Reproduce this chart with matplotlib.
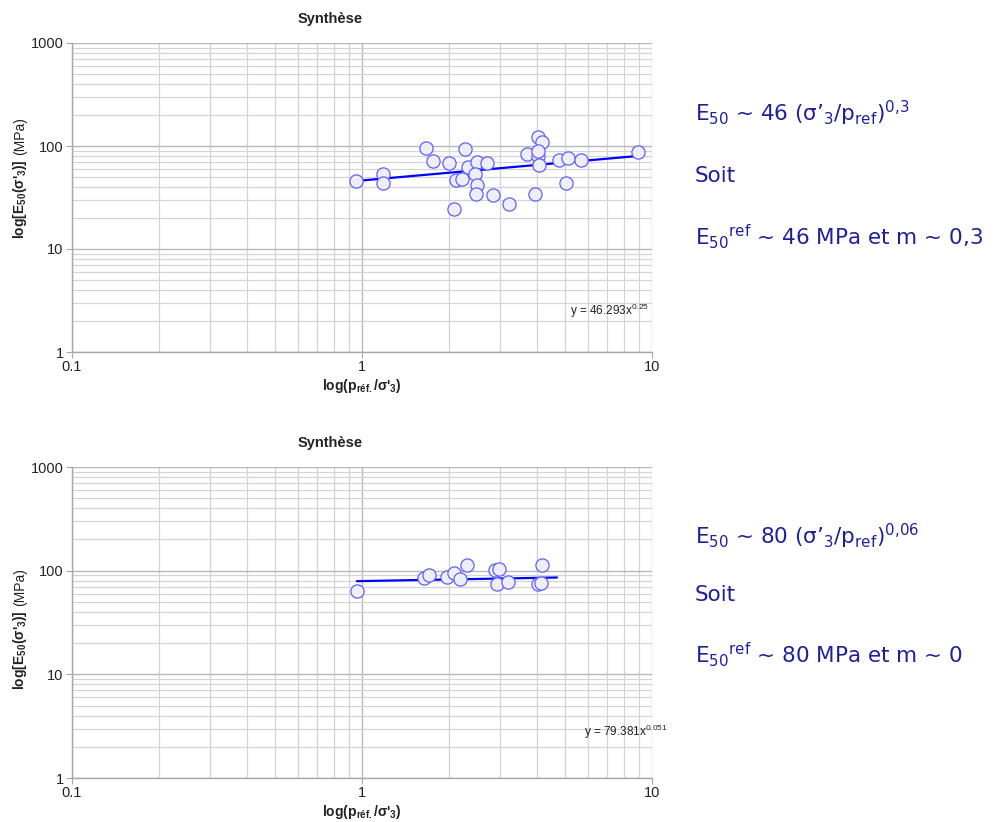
import matplotlib
matplotlib.use("Agg")
import matplotlib.pyplot as plt
import numpy as np
from matplotlib.ticker import LogLocator, NullFormatter, FixedLocator, FixedFormatter

plt.rcParams['font.family'] = ['Liberation Sans', 'DejaVu Sans']
plt.rcParams['mathtext.fontset'] = 'custom'
plt.rcParams['mathtext.rm'] = 'Liberation Sans'
plt.rcParams['mathtext.bf'] = 'Liberation Sans:bold'
plt.rcParams['mathtext.it'] = 'Liberation Sans:italic'
plt.rcParams['mathtext.sf'] = 'DejaVu Sans'

# ---------------- data ----------------
title = "Synthèse"
x_ticks = [0.1, 1, 10]
x_tick_labels = ["0.1", "1", "10"]
y_ticks = [1, 10, 100, 1000]
y_tick_labels = ["1", "10", "100", "1000"]

x1 = [0.953, 1.184, 1.184, 1.662, 1.752, 1.99, 2.265, 2.08, 2.11, 2.22, 2.325,
      2.49, 2.45, 2.50, 2.47, 2.69, 2.84, 3.21, 3.94, 3.72, 4.06, 4.17, 4.05,
      4.08, 4.04, 4.78, 5.12, 5.06, 5.68, 8.98]
y1 = [45.7, 53, 44, 95, 72, 67.9, 93.5, 24.5, 46.8, 47.9, 63,
      70.4, 53, 41.8, 34, 67.9, 33.4, 27.3, 34, 83.6, 123, 108.6, 80,
      65.4, 90, 73, 76, 44, 73, 87.4]
fit1_coef, fit1_exp = 46.293, 0.25
fit1_range = [0.953, 8.98]
eq1 = r"y = 46.293x$^{0.25}$"

x2 = [0.963, 1.63, 1.70, 1.97, 2.08, 2.17, 2.31, 2.88, 2.97, 2.91, 3.18,
      4.17, 4.06, 4.15]
y2 = [64, 85, 91.5, 86, 95, 83, 113.6, 102, 104, 74, 77,
      113.6, 74, 76]
fit2_coef, fit2_exp = 79.381, 0.051
fit2_range = [0.963, 4.69]
eq2 = r"y = 79.381x$^{0.051}$"

right1 = [r"E$_{\mathsf{50}}$ ~ 46 (σ’$_{\mathsf{3}}$/p$_{\mathsf{ref}}$)$^{\mathsf{0{,}3}}$",
          "Soit",
          r"E$_{\mathsf{50}}$$^{\mathsf{ref}}$ ~ 46 MPa et m ~ 0,3"]
right2 = [r"E$_{\mathsf{50}}$ ~ 80 (σ’$_{\mathsf{3}}$/p$_{\mathsf{ref}}$)$^{\mathsf{0{,}06}}$",
          "Soit",
          r"E$_{\mathsf{50}}$$^{\mathsf{ref}}$ ~ 80 MPa et m ~ 0"]

W, H = 997, 822
fig = plt.figure(figsize=(W / 100, H / 100), dpi=100)

def fx(px):
    return px / W

def fy(py):
    return 1 - py / H

grid_c = '#d4d4d4'
spine_c = '#a8a8a8'
text_blue = '#1f1f9e'

def make_axes(top, bottom, xs, ys, coef, expo, frange, eq, eq_xy):
    ax = fig.add_axes([fx(72), fy(bottom), fx(652) - fx(72), fy(top) - fy(bottom)])
    ax.set_xscale('log')
    ax.set_yscale('log')
    ax.set_xlim(0.1, 10)
    ax.set_ylim(1, 1000)
    ax.xaxis.set_major_locator(FixedLocator(x_ticks))
    ax.xaxis.set_major_formatter(FixedFormatter(x_tick_labels))
    ax.yaxis.set_major_locator(FixedLocator(y_ticks))
    ax.yaxis.set_major_formatter(FixedFormatter(y_tick_labels))
    ax.xaxis.set_minor_locator(LogLocator(base=10, subs=np.arange(2, 10)))
    ax.yaxis.set_minor_locator(LogLocator(base=10, subs=np.arange(2, 10)))
    ax.xaxis.set_minor_formatter(NullFormatter())
    ax.yaxis.set_minor_formatter(NullFormatter())
    ax.grid(True, which='major', color='#b8b8b8', lw=1.0)
    ax.grid(True, which='minor', color=grid_c, lw=0.9)
    ax.set_axisbelow(True)
    for s in ['top', 'right']:
        ax.spines[s].set_visible(False)
    for s in ['left', 'bottom']:
        ax.spines[s].set_color(spine_c)
        ax.spines[s].set_linewidth(1.0)
    ax.tick_params(which='major', length=4, color=spine_c, labelsize=10.5,
                   labelcolor='#222222', pad=2)
    ax.tick_params(which='minor', length=0)
    xf = np.array(frange)
    ax.plot(xf, coef * xf ** expo, color='#0000ff', lw=1.6, zorder=2)
    ax.plot(xs, ys, 'o', ms=9.5, mfc='#eeeef6', mec='#6060ff', mew=0.9,
            zorder=3, clip_on=False)
    fig.text(fx(eq_xy[0]), fy(eq_xy[1]), eq, fontsize=8.5, ha='left',
             va='baseline', color='#222222')
    # title
    fig.text(fx(330), fy(top - 20), title, fontsize=10.5, fontweight='bold',
             ha='center', va='baseline', color='#222222')
    # x label
    fig.text(fx(362), fy(bottom + 38), r"log(p$_{\mathbf{réf.}}$/σ'$_{\mathbf{3}}$)",
             fontsize=10, fontweight='bold', ha='center', va='baseline', color='#222222')
    return ax

ax1 = make_axes(43, 352, x1, y1, fit1_coef, fit1_exp, fit1_range, eq1, (570, 315))
ax2 = make_axes(467, 778, x2, y2, fit2_coef, fit2_exp, fit2_range, eq2, (584, 736))

# y labels: bold part + normal "(MPa)"
fig.canvas.draw()
renderer = fig.canvas.get_renderer()

def ylabel(y_bottom_px):
    t = fig.text(fx(20), fy(y_bottom_px),
                 r"log[E$_{\mathbf{50}}$(σ'$_{\mathbf{3}}$)]",
                 fontsize=10, fontweight='bold', rotation=90,
                 rotation_mode='anchor', ha='left', va='center', color='#222222')
    bb = t.get_window_extent(renderer)
    length = bb.height
    fig.text(fx(20), fy(y_bottom_px - length - 4), "(MPa)", fontsize=10,
             rotation=90, rotation_mode='anchor', ha='left', va='center',
             color='#222222')

ylabel(239)
ylabel(690)

def right_text(lines, baselines):
    for s, b in zip(lines, baselines):
        fig.text(fx(695), fy(b), s, fontsize=15.5, family='DejaVu Sans',
                 ha='left', va='baseline', color=text_blue)

right_text(right1, [121, 182, 245])
right_text(right2, [544, 601, 663])

fig.savefig("out.png", dpi=100)
